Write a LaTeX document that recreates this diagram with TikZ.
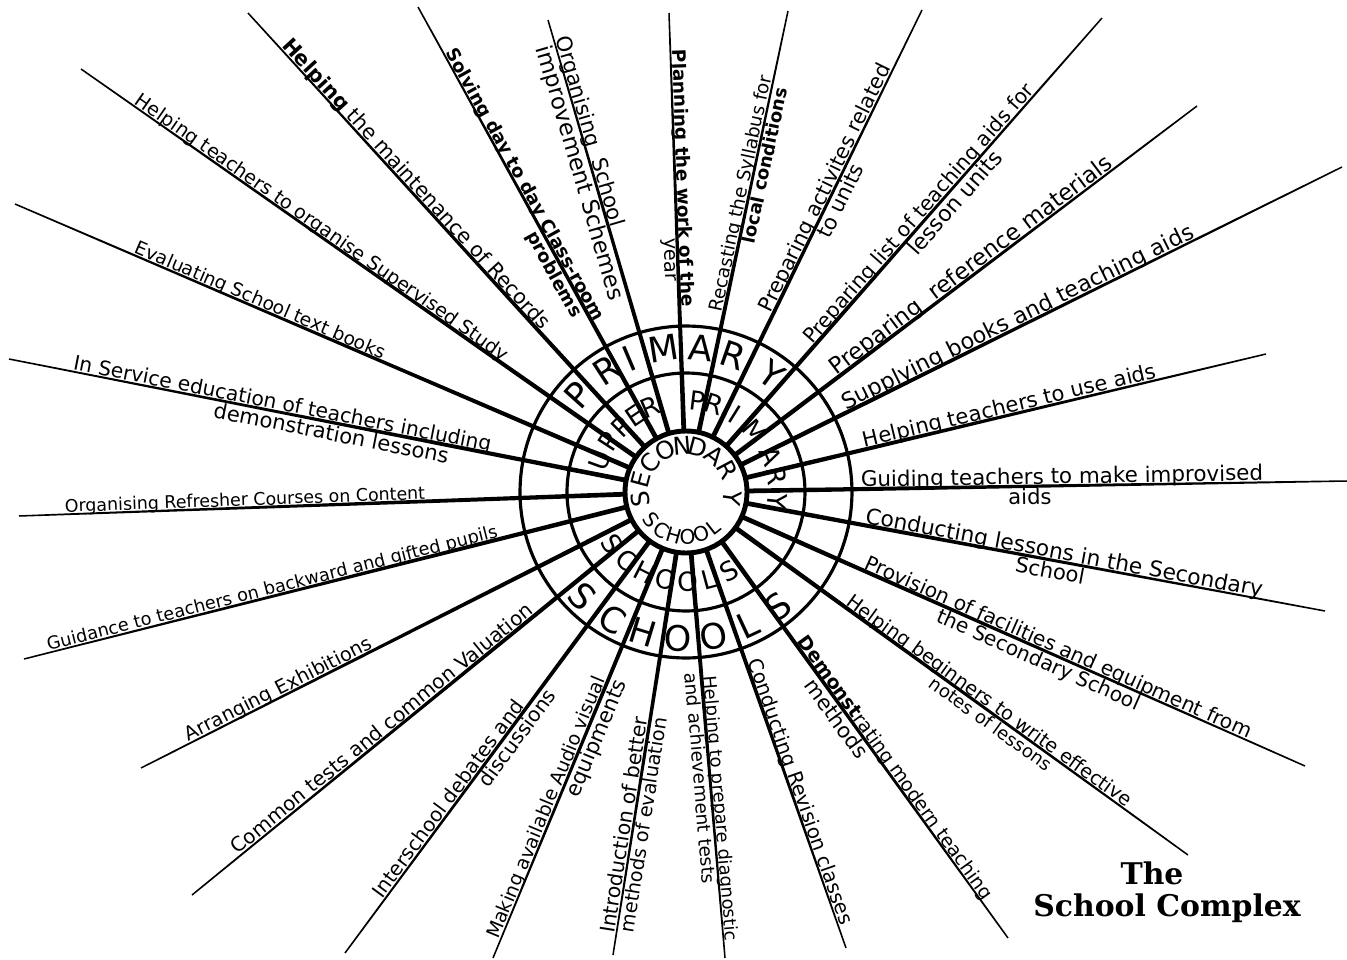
\documentclass[tikz,border=0pt]{standalone}
\usepackage{fontspec}
\setmainfont{DejaVu Sans}
\newfontfamily\titlefont{DejaVu Serif}
\usetikzlibrary{calc}
\newcommand{\labsize}[1]{\fontsize{#1}{#1}\selectfont}

\begin{document}
\begin{tikzpicture}[x=0.02cm,y=-0.02cm,
  lab/.style={sloped,pos=0,inner sep=1pt,text depth=0pt,font=\labsize{11}},
  big/.style={font=\labsize{20},inner sep=0pt},
  mid/.style={font=\labsize{15},inner sep=0pt},
  small/.style={font=\labsize{11.5},inner sep=0pt}]
\useasboundingbox (0,0) rectangle (1347,960);
\coordinate (C) at (686,492);
% spokes, thick at the hub and thin at the rim
\foreach \n/\x/\y in {1/248/13,2/418/7,3/548/20,4/669/13,5/788/11,6/922/10,7/1102/18,
  8/1197/106,9/1342/167,10/1266/354,11/1347/481,12/1325/611,13/1305/766,14/1188/855,
  15/1008/938,16/846/948,17/725/958,18/613/955,19/493/958,20/345/953,21/192/895,
  22/141/768,23/24/659,24/19/516,25/9/359,26/15/204,27/81/69}{
  \coordinate (e\n) at (\x,\y);
  \coordinate (s\n) at ($(C)!1.22cm!(e\n)$);
  \fill ($(s\n)!0.048cm!90:(e\n)$) -- ($(e\n)!0.015cm!-90:(s\n)$)
    -- ($(e\n)!0.015cm!90:(s\n)$) -- ($(s\n)!0.048cm!-90:(e\n)$) -- cycle;
}
\draw[line width=1.8pt] (C) circle[radius=3.32cm];
\draw[line width=1.8pt] (C) circle[radius=2.38cm];
\draw[line width=2.8pt] (C) circle[radius=1.22cm];

% ring letters
\foreach \a/\c [count=\i] in {138/P,123/R,113/I,99/M,84/A,71/R,54/Y}
  \node[big,rotate=\a-90] (pt\i) at ($(C)+(\a:2.9cm)$) {\c};
\foreach \a/\c [count=\i] in {-135/S,-120/C,-107/H,-93/O,-79/O,-65/L,-51/S}
  \node[big,rotate=\a+90] (pb\i) at ($(C)+(\a:2.94cm)$) {\c};
\foreach \a/\c [count=\i] in {160/U,147/P,135/P,124/E,113/R,83/P,72/R,58/I,41/M,23/A,10/R,-6/Y}
  \node[mid,rotate=\a-90] (ut\i) at ($(C)+(\a:1.84cm)$) {\c};
\foreach \a/\c [count=\i] in {-145/S,-131/C,-117/H,-103/O,-89/O,-75/L,-61/S}
  \node[mid,rotate=\a+90] (ub\i) at ($(C)+(\a:1.8cm)$) {\c};
\foreach \a/\c [count=\i] in {189/S,165/E,141/C,116/O,95/N,75/D,52/A,28/R,-8/Y}
  \node[mid,font=\labsize{14},rotate=\a-90] (st\i) at ($(C)+(\a:0.93cm)$) {\c};
\foreach \a/\c [count=\i] in {-141/S,-123/C,-106/H,-88/O,-70/O,-52/L}
  \node[small,rotate=\a+90] (sb\i) at ($(C)+(\a:0.9cm)$) {\c};

% spoke labels
\path ($(C)!(416,184)!(e1)$) -- (e1) node[lab,above,font=\labsize{11.7}] (t1) {\textbf{Helping} the maintenance of Records};
\path ($(C)!(530,182)!(e2)$) -- (e2) node[lab,above,font=\bfseries\labsize{10.3}] (t2) {Solving day to day Class-room};
\path ($(C)!(553,275)!(e2)$) -- (e2) node[lab,below,font=\bfseries\labsize{10.3}] (t2b) {problems};
\path ($(C)!(594,130)!(e3)$) -- (e3) node[lab,above,font=\labsize{12}] (t3) {Organising~~School};
\path ($(C)!(580,173)!(e3)$) -- (e3) node[lab,below,font=\labsize{13}] (t3b) {improvement Schemes};
\path ($(C)!(685,178)!(e4)$) -- (e4) node[lab,above,font=\bfseries\labsize{10.5}] (t4) {Planning the work of the};
\path ($(C)!(667,260)!(e4)$) -- (e4) node[lab,below] (t4b) {year};
\path ($(C)!(735,192)!(e5)$) -- (e5) node[lab,above,font=\labsize{10.5}] (t5) {Recasting the Syllabus for};
\path ($(C)!(763,165)!(e5)$) -- (e5) node[lab,below,font=\bfseries\labsize{10.2}] (t5b) {local conditions};
\path ($(C)!(827,189)!(e6)$) -- (e6) node[lab,above,font=\labsize{11.8}] (t6) {Preparing activites related};
\path ($(C)!(843,202)!(e6)$) -- (e6) node[lab,below,font=\labsize{12}] (t6b) {to units};
\path ($(C)!(917,212)!(e7)$) -- (e7) node[lab,above,font=\labsize{11.6}] (t7) {Preparing list of teaching aids for};
\path ($(C)!(960,207)!(e7)$) -- (e7) node[lab,below,font=\labsize{12.5}] (t7b) {lesson units};
\path ($(C)!(967,260)!(e8)$) -- (e8) node[lab,above,font=\labsize{13}] (t8) {Preparing~~reference materials};
\path ($(C)!(1015,312)!(e9)$) -- (e9) node[lab,above,font=\labsize{12.7}] (t9) {Supplying books and teaching aids};
\path ($(C)!(1009,403)!(e10)$) -- (e10) node[lab,above,font=\labsize{12}] (t10) {Helping teachers to use aids};
\path ($(C)!(1062,476)!(e11)$) -- (e11) node[lab,above,font=\labsize{12.2}] (t11) {Guiding teachers to make improvised};
\path ($(C)!(1030,501)!(e11)$) -- (e11) node[lab,below,font=\labsize{12}] (t11b) {aids};
\path ($(C)!(1063,560)!(e12)$) -- (e12) node[lab,above,font=\labsize{12.4}] (t12) {Conducting lessons in the Secondary};
\path ($(C)!(1048,582)!(e12)$) -- (e12) node[lab,below,font=\labsize{12}] (t12b) {School};
\path ($(C)!(1058,648)!(e13)$) -- (e13) node[lab,above,font=\labsize{11.5}] (t13) {Provision of facilities and equipment from};
\path ($(C)!(1037,663)!(e13)$) -- (e13) node[lab,below,font=\labsize{11.5}] (t13b) {the Secondary School};
\path ($(C)!(985,707)!(e14)$) -- (e14) node[lab,above] (t14) {Helping beginners to write effective};
\path ($(C)!(990,725)!(e14)$) -- (e14) node[lab,below,font=\labsize{10.3}] (t14b) {notes of lessons};
\path ($(C)!(898,766)!(e15)$) -- (e15) node[lab,above,font=\labsize{10.8}] (t15) {\textbf{Demonst}rating modern teaching};
\path ($(C)!(835,720)!(e15)$) -- (e15) node[lab,below,font=\labsize{12}] (t15b) {methods};
\path ($(C)!(805,790)!(e16)$) -- (e16) node[lab,above,font=\labsize{11.3}] (t16) {Conducting Revision classes};
\path ($(C)!(723,808)!(e17)$) -- (e17) node[lab,above,font=\labsize{10.2}] (t17) {Helping to prepare diagnostic};
\path ($(C)!(700,778)!(e17)$) -- (e17) node[lab,below,font=\labsize{10.5}] (t17b) {and achievement tests};
\path ($(C)!(625,825)!(e18)$) -- (e18) node[lab,above,font=\labsize{11.6}] (t18) {Introduction of better};
\path ($(C)!(645,825)!(e18)$) -- (e18) node[lab,below] (t18b) {methods of evaluation};
\path ($(C)!(547,808)!(e19)$) -- (e19) node[lab,above,font=\labsize{10.8}] (t19) {Making available Audio visual};
\path ($(C)!(596,738)!(e19)$) -- (e19) node[lab,below,font=\labsize{12}] (t19b) {equipments};
\path ($(C)!(446,797)!(e20)$) -- (e20) node[lab,above,font=\labsize{11.3}] (t20) {Interschool debates and};
\path ($(C)!(517,738)!(e20)$) -- (e20) node[lab,below,font=\labsize{11.5}] (t20b) {discussions};
\path ($(C)!(383,730)!(e21)$) -- (e21) node[lab,above,font=\labsize{11.4}] (t21) {Common tests and common Valuation};
\path ($(C)!(278,688)!(e22)$) -- (e22) node[lab,above] (t22) {Arranging Exhibitions};
\path ($(C)!(272,588)!(e23)$) -- (e23) node[lab,above,font=\labsize{10.1}] (t23) {Guidance to teachers on backward and gifted pupils};
\path ($(C)!(245,500)!(e24)$) -- (e24) node[lab,above,font=\labsize{9.9}] (t24) {Organising Refresher Courses on Content};
\path ($(C)!(282,406)!(e25)$) -- (e25) node[lab,above,font=\labsize{11.5}] (t25) {In Service education of teachers including};
\path ($(C)!(330,440)!(e25)$) -- (e25) node[lab,below,font=\labsize{12}] (t25b) {demonstration lessons};
\path ($(C)!(260,301)!(e26)$) -- (e26) node[lab,above,font=\labsize{10.6}] (t26) {Evaluating School text books};
\path ($(C)!(323,226)!(e27)$) -- (e27) node[lab,above,font=\labsize{10.9}] (t27) {Helping teachers to organise Supervised Study};

% title
\node[font=\titlefont\bfseries\labsize{17}] (title1) at (1152,873) {The};
\node[font=\titlefont\bfseries\labsize{17}] (title2) at (1167,908) {School Complex};
\end{tikzpicture}
\end{document}
